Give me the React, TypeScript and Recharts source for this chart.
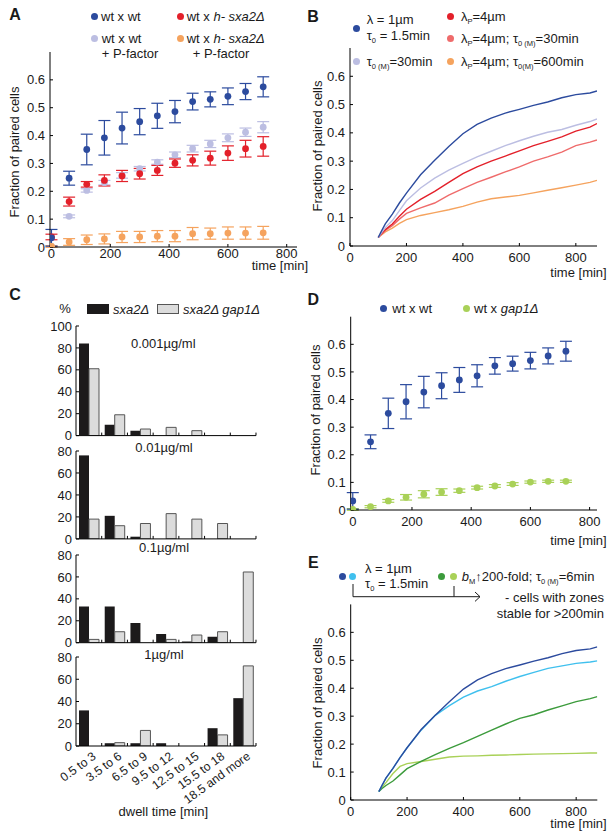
import React from 'react';
import { ScatterChart, Scatter, XAxis, YAxis, ErrorBar, LineChart, Line, BarChart, Bar } from 'recharts';

const FONT = '"Liberation Sans", Arial, Helvetica, sans-serif';

// ---------- Panel A / D : experimental time courses ----------
const timesExp = [0, 60, 120, 180, 240, 300, 360, 420, 480, 540, 600, 660, 720];
const wtWt = [0.033, 0.247, 0.35, 0.392, 0.427, 0.45, 0.471, 0.486, 0.522, 0.53, 0.541, 0.558, 0.575];
const wtWtErr = [0.03, 0.025, 0.055, 0.062, 0.057, 0.047, 0.045, 0.04, 0.03, 0.027, 0.03, 0.029, 0.036];
const wtSxa2 = [0.036, 0.163, 0.225, 0.239, 0.255, 0.263, 0.275, 0.301, 0.311, 0.319, 0.337, 0.353, 0.361];
const wtSxa2Err = [0.01, 0.016, 0.01, 0.02, 0.02, 0.019, 0.018, 0.015, 0.02, 0.025, 0.026, 0.03, 0.035];
const wtWtP = [0.002, 0.11, 0.203, 0.231, 0.257, 0.281, 0.305, 0.331, 0.353, 0.37, 0.392, 0.412, 0.43];
const wtWtPErr = [0.002, 0.005, 0.006, 0.008, 0.01, 0.008, 0.008, 0.01, 0.012, 0.013, 0.014, 0.015, 0.02];
const wtSxa2P = [0.002, 0.018, 0.026, 0.029, 0.036, 0.036, 0.039, 0.039, 0.048, 0.048, 0.05, 0.05, 0.051];
const wtSxa2PErr = [0.003, 0.012, 0.017, 0.018, 0.02, 0.02, 0.02, 0.02, 0.022, 0.02, 0.022, 0.022, 0.023];
const wtGap1 = [0.002, 0.012, 0.033, 0.046, 0.057, 0.065, 0.07, 0.081, 0.087, 0.094, 0.101, 0.104, 0.104];
const wtGap1Err = [0.003, 0.004, 0.005, 0.01, 0.013, 0.012, 0.006, 0.005, 0.005, 0.005, 0.004, 0.004, 0.004];

// ---------- Panel B / E : simulations ----------
const timesSim = [100, 110, 125, 150, 175, 200, 250, 300, 350, 400, 450, 500, 550, 600, 650, 700, 750, 800, 850, 875];
const simBase = [0.03, 0.05, 0.078, 0.113, 0.152, 0.187, 0.252, 0.303, 0.352, 0.397, 0.43, 0.452, 0.47, 0.483, 0.497, 0.509, 0.524, 0.535, 0.541, 0.548];
const simTauM30 = [0.03, 0.045, 0.065, 0.09, 0.125, 0.16, 0.205, 0.24, 0.268, 0.292, 0.315, 0.335, 0.355, 0.372, 0.388, 0.402, 0.412, 0.427, 0.44, 0.449];
const simLamP = [0.03, 0.042, 0.058, 0.078, 0.105, 0.13, 0.165, 0.193, 0.225, 0.256, 0.28, 0.3, 0.318, 0.336, 0.355, 0.37, 0.386, 0.406, 0.42, 0.433];
const simLamPTau30 = [0.03, 0.04, 0.055, 0.072, 0.095, 0.115, 0.135, 0.152, 0.18, 0.203, 0.225, 0.243, 0.262, 0.28, 0.3, 0.315, 0.332, 0.355, 0.367, 0.375];
const simLamPTau600 = [0.03, 0.038, 0.05, 0.063, 0.08, 0.093, 0.108, 0.118, 0.128, 0.14, 0.155, 0.167, 0.173, 0.179, 0.188, 0.197, 0.206, 0.215, 0.225, 0.232];
const simStable = [0.03, 0.05, 0.078, 0.113, 0.152, 0.187, 0.25, 0.303, 0.338, 0.368, 0.39, 0.406, 0.425, 0.442, 0.457, 0.471, 0.48, 0.489, 0.494, 0.498];
const simBM = [0.03, 0.04, 0.052, 0.068, 0.09, 0.112, 0.138, 0.162, 0.185, 0.205, 0.228, 0.25, 0.272, 0.292, 0.305, 0.322, 0.337, 0.352, 0.363, 0.37];
const simBMStable = [0.03, 0.045, 0.062, 0.095, 0.12, 0.13, 0.138, 0.146, 0.154, 0.157, 0.158, 0.16, 0.161, 0.163, 0.164, 0.165, 0.166, 0.167, 0.168, 0.168];

// ---------- Panel C : dwell time histograms ----------
const dwellCats = ['0.5 to 3', '3.5 to 6', '6.5 to 9', '9.5 to 12', '12.5 to 15', '15.5 to 18', '18.5 and more'];
const sxa2_0001 = [84, 10, 4.5, 0, 0, 0, 0];
const gap1_0001 = [61, 19, 6, 7.5, 4.5, 0, 0];
const sxa2_001 = [76, 21, 2, 0, 0, 0, 0];
const gap1_001 = [18, 12, 14, 23, 18, 14, 0];
const sxa2_01 = [33, 33, 18, 8, 1, 5.5, 0];
const gap1_01 = [3, 10, 0, 3, 7, 10, 64.5];
const sxa2_1 = [32, 2.5, 2.5, 2.5, 0, 16, 43];
const gap1_1 = [0, 3, 14, 0, 0, 10, 72];

const xTicksExp = [0, 200, 400, 600, 800];
const yTicksFrac = [0, 0.1, 0.2, 0.3, 0.4, 0.5, 0.6];
const yTicksPct100 = [0, 20, 40, 60, 80, 100];
const yTicksPct80 = [0, 20, 40, 60, 80];
const edgeTicks = [0.5, 1, 1.5, 2, 2.5, 3, 3.5, 4, 4.5, 5, 5.5, 6, 6.5, 7];

const C = {
  blue: '#2C4B9E',
  red: '#E3202A',
  lav: '#BCBEE2',
  orange: '#F5A35E',
  pink: '#EF6B6B',
  cyan: '#40C0EE',
  dgreen: '#3C9B3C',
  lgreen: '#A9D158',
};

const tickStyle = { fill: '#1a1a1a', fontSize: 13, fontFamily: FONT };
const fmt = (v: number) => (v === 0 ? '0' : String(v));

const expData = (vals: number[], errs: number[]) => timesExp.map((t, i) => ({ t, y: vals[i], e: errs[i] }));
const simData = timesSim.map((t, i) => ({
  t,
  base: simBase[i],
  tau30: simTauM30[i],
  lamP: simLamP[i],
  lamP30: simLamPTau30[i],
  lamP600: simLamPTau600[i],
  stable: simStable[i],
  bm: simBM[i],
  bmStable: simBMStable[i],
}));

const dotShape = (color: string) => (p: any) => <circle cx={p.cx} cy={p.cy} r={3.4} fill={color} />;

function Sub({ children }: { children: React.ReactNode }) {
  return <span style={{ fontSize: '0.58em', position: 'relative', top: '0.35em' }}>{children}</span>;
}

function T({ x, y, anchor = 'start', size = 13, bold = false, children }: any) {
  const tx = anchor === 'end' ? '-100%' : anchor === 'middle' ? '-50%' : '0';
  return (
    <div
      style={{
        position: 'absolute', left: x, top: y, transform: `translate(${tx},-50%)`,
        fontSize: size, lineHeight: 1, whiteSpace: 'nowrap', fontFamily: FONT,
        color: '#1a1a1a', fontWeight: bold ? 'bold' : 'normal',
      }}
    >
      {children}
    </div>
  );
}

function YLabel({ x, y }: { x: number; y: number }) {
  return (
    <div
      style={{
        position: 'absolute', left: x, top: y, transform: 'translate(-50%,-50%) rotate(-90deg)',
        fontSize: 13, lineHeight: 1, whiteSpace: 'nowrap', fontFamily: FONT, color: '#1a1a1a',
      }}
    >
      Fraction of paired cells
    </div>
  );
}

function Dot({ x, y, c }: { x: number; y: number; c: string }) {
  return <div style={{ position: 'absolute', left: x - 3.5, top: y - 3.5, width: 7, height: 7, borderRadius: '50%', background: c }} />;
}

function Box({ x, y, w, h, fill, stroke }: any) {
  return <div style={{ position: 'absolute', left: x, top: y, width: w, height: h, background: fill, border: `1px solid ${stroke}`, boxSizing: 'border-box' }} />;
}

function ExpChart({ left, top, width, height, mTop, mRight, mBottom, mLeft, domainX, xMargin, series }: any) {
  return (
    <div style={{ position: 'absolute', left, top }}>
      <ScatterChart width={width} height={height} margin={{ top: mTop, right: mRight, bottom: mBottom, left: mLeft }}>
        <XAxis type="number" dataKey="t" domain={domainX} allowDataOverflow ticks={xTicksExp} interval={0} tickSize={-3} tickMargin={xMargin} height={20} stroke="#000" tick={tickStyle} />
        <YAxis type="number" dataKey="y" domain={[0, 0.7]} allowDataOverflow ticks={yTicksFrac} interval={0} width={50} tickSize={-3} tickMargin={8} stroke="#000" tick={tickStyle} tickFormatter={fmt} />
        {series.map((s: any, i: number) => (
          <Scatter key={i} data={expData(s.vals, s.errs)} fill={s.color} shape={dotShape(s.color)} isAnimationActive={false}>
            <ErrorBar dataKey="e" direction="y" width={6} stroke={s.color} strokeWidth={1.2} />
          </Scatter>
        ))}
      </ScatterChart>
    </div>
  );
}

function SimChart({ left, top, width, height, mTop, mRight, mBottom, mLeft, lines }: any) {
  return (
    <div style={{ position: 'absolute', left, top }}>
      <LineChart width={width} height={height} data={simData} margin={{ top: mTop, right: mRight, bottom: mBottom, left: mLeft }}>
        <XAxis type="number" dataKey="t" domain={[0, 875]} allowDataOverflow ticks={xTicksExp} interval={0} tickSize={-3} tickMargin={10} height={20} stroke="#000" tick={tickStyle} />
        <YAxis type="number" domain={[0, 0.7]} allowDataOverflow ticks={yTicksFrac} interval={0} width={50} tickSize={-3} tickMargin={8} stroke="#000" tick={tickStyle} tickFormatter={fmt} />
        {lines.map((l: any) => (
          <Line key={l.key} type="linear" dataKey={l.key} stroke={l.color} strokeWidth={1.4} dot={false} isAnimationActive={false} />
        ))}
      </LineChart>
    </div>
  );
}

const makeEdgeTick = (showLabels: boolean) => (props: any) => {
  const { x, y, payload } = props;
  const v = payload.value;
  if (Number.isInteger(v)) {
    return <line x1={x} x2={x} y1={y} y2={y - 3} stroke="#000" strokeWidth={1} />;
  }
  if (!showLabels) return <g />;
  const label = dwellCats[Math.floor(v)];
  const lx = x + 8;
  const ly = y + 12;
  return (
    <text x={lx} y={ly} transform={`rotate(-36 ${lx} ${ly})`} textAnchor="end" fontSize={12.2} fill="#1a1a1a" fontFamily={FONT}>
      {label}
    </text>
  );
};

function DwellChart({ plotTop, plotBottom, max, ticks, s, g, labels }: any) {
  const above = 6;
  const below = labels ? 70 : 8;
  const height = plotBottom - plotTop + above + below;
  const data = dwellCats.map((cat, i) => ({ cat, pos: i + 0.5, s: s[i], g: g[i] }));
  return (
    <div style={{ position: 'absolute', left: 0, top: plotTop - above }}>
      <BarChart width={300} height={height} data={data} barGap={0} margin={{ top: above, right: 44, bottom: 0, left: 36 }}>
        <XAxis xAxisId="edge" dataKey="pos" type="number" domain={[0, 7]} allowDataOverflow ticks={edgeTicks} interval={0} tickLine={false} tickSize={0} tickMargin={0} height={below} stroke="#000" tick={makeEdgeTick(labels)} />
        <XAxis xAxisId="cat" dataKey="cat" type="category" hide height={0} />
        <YAxis type="number" domain={[0, max]} allowDataOverflow ticks={ticks} interval={0} width={40} tickSize={-3} tickMargin={7} stroke="#000" tick={tickStyle} />
        <Bar xAxisId="cat" dataKey="s" fill="#1c1a1b" barSize={10} isAnimationActive={false} />
        <Bar xAxisId="cat" dataKey="g" fill="#dcdcdc" stroke="#555" strokeWidth={1} barSize={10} isAnimationActive={false} />
      </BarChart>
    </div>
  );
}

export default function App() {
  return (
    <div style={{ position: 'absolute', left: 0, top: 0, width: 615, height: 839, background: '#fff', overflow: 'hidden', fontFamily: FONT }}>
      {/* Panel A */}
      <ExpChart
        left={0} top={0} width={310} height={280} mTop={52} mRight={13} mBottom={13} mLeft={0} domainX={[-5, 835]} xMargin={5}
        series={[
          { vals: wtWtP, errs: wtWtPErr, color: C.lav },
          { vals: wtSxa2P, errs: wtSxa2PErr, color: C.orange },
          { vals: wtSxa2, errs: wtSxa2Err, color: C.red },
          { vals: wtWt, errs: wtWtErr, color: C.blue },
        ]}
      />
      <T x={15} y={15} size={16} bold anchor="middle">A</T>
      <Dot x={94.3} y={16} c={C.blue} />
      <T x={101} y={16}>wt x wt</T>
      <Dot x={180} y={16} c={C.red} />
      <T x={186.7} y={16}>wt x <i>h- sxa2Δ</i></T>
      <Dot x={94.3} y={38.3} c={C.lav} />
      <T x={101.7} y={38.3}>wt x wt</T>
      <T x={101.7} y={53.3}>+ P-factor</T>
      <Dot x={180} y={38.3} c={C.orange} />
      <T x={186.7} y={38.3}>wt x <i>h- sxa2Δ</i></T>
      <T x={192.7} y={53.3}>+ P-factor</T>
      <YLabel x={14} y={152} />
      <T x={308} y={265} anchor="end">time [min]</T>

      {/* Panel B */}
      <SimChart
        left={300} top={0} width={315} height={280} mTop={48} mRight={18} mBottom={14} mLeft={0}
        lines={[
          { key: 'lamP600', color: C.orange },
          { key: 'lamP30', color: C.pink },
          { key: 'lamP', color: C.red },
          { key: 'tau30', color: C.lav },
          { key: 'base', color: C.blue },
        ]}
      />
      <T x={313} y={16.7} size={16} bold anchor="middle">B</T>
      <Dot x={356.7} y={28.3} c={C.blue} />
      <T x={366.7} y={19.3}>λ = 1µm</T>
      <T x={366.7} y={35}>τ<Sub>0</Sub> = 1.5min</T>
      <Dot x={356.7} y={61} c={C.lav} />
      <T x={366.7} y={61}>τ<Sub>0 (M)</Sub>=30min</T>
      <Dot x={450} y={16} c={C.red} />
      <T x={461} y={16}>λ<Sub>P</Sub>=4µm</T>
      <Dot x={450} y={38.3} c={C.pink} />
      <T x={461} y={38.3}>λ<Sub>P</Sub>=4µm; τ<Sub>0 (M)</Sub>=30min</T>
      <Dot x={450} y={61} c={C.orange} />
      <T x={461} y={61}>λ<Sub>P</Sub>=4µm; τ<Sub>0(M)</Sub>=600min</T>
      <YLabel x={316.7} y={146} />
      <T x={606.7} y={272} anchor="end">time [min]</T>

      {/* Panel C */}
      <T x={15} y={295} size={16} bold anchor="middle">C</T>
      <T x={65} y={308.3} anchor="middle">%</T>
      <Box x={87} y={304} w={22} h={10} fill="#1c1a1b" stroke="#1c1a1b" />
      <T x={113} y={309}><i>sxa2Δ</i></T>
      <Box x={157} y={304} w={22} h={10} fill="#dcdcdc" stroke="#555" />
      <T x={183} y={309}><i>sxa2Δ gap1Δ</i></T>
      <DwellChart plotTop={325.7} plotBottom={435.3} max={100} ticks={yTicksPct100} s={sxa2_0001} g={gap1_0001} labels={false} />
      <DwellChart plotTop={450.7} plotBottom={538.6} max={80} ticks={yTicksPct80} s={sxa2_001} g={gap1_001} labels={false} />
      <DwellChart plotTop={555} plotBottom={642.7} max={80} ticks={yTicksPct80} s={sxa2_01} g={gap1_01} labels={false} />
      <DwellChart plotTop={656.7} plotBottom={745.7} max={80} ticks={yTicksPct80} s={sxa2_1} g={gap1_1} labels={true} />
      <T x={163.3} y={343.3} anchor="middle">0.001µg/ml</T>
      <T x={164} y={446.7} anchor="middle">0.01µg/ml</T>
      <T x={164} y={546.7} anchor="middle">0.1µg/ml</T>
      <T x={164} y={654.3} anchor="middle">1µg/ml</T>
      <T x={163.3} y={811} anchor="middle">dwell time [min]</T>

      {/* Panel D */}
      <ExpChart
        left={300} top={280} width={315} height={260} mTop={36.7} mRight={18} mBottom={10} mLeft={0.7} domainX={[-7, 825]} xMargin={10}
        series={[
          { vals: wtGap1, errs: wtGap1Err, color: C.lgreen },
          { vals: wtWt, errs: wtWtErr, color: C.blue },
        ]}
      />
      <T x={313.3} y={300} size={16} bold anchor="middle">D</T>
      <Dot x={383.3} y={308.3} c={C.blue} />
      <T x={392.3} y={308.3}>wt x wt</T>
      <Dot x={466} y={308.3} c={C.lgreen} />
      <T x={474} y={308.3}>wt x <i>gap1Δ</i></T>
      <YLabel x={315} y={410} />
      <T x={606.7} y={540} anchor="end">time [min]</T>

      {/* Panel E */}
      <SimChart
        left={300} top={535} width={315} height={300} mTop={69.4} mRight={17.7} mBottom={15} mLeft={0.7}
        lines={[
          { key: 'bmStable', color: C.lgreen },
          { key: 'bm', color: C.dgreen },
          { key: 'stable', color: C.cyan },
          { key: 'base', color: C.blue },
        ]}
      />
      <T x={313.3} y={563.3} size={16} bold anchor="middle">E</T>
      <Dot x={342} y={576} c={C.blue} />
      <Dot x={352.5} y={576} c={C.cyan} />
      <T x={365} y={568.3}>λ = 1µm</T>
      <T x={365} y={583.3}>τ<Sub>0</Sub> = 1.5min</T>
      <Dot x={441.7} y={576} c={C.dgreen} />
      <Dot x={453.3} y={576} c={C.lgreen} />
      <T x={461.7} y={576}><i>b</i><Sub>M</Sub>↑200-fold; τ<Sub>0 (M)</Sub>=6min</T>
      <svg style={{ position: 'absolute', left: 0, top: 0 }} width={615} height={839} pointerEvents="none">
        <polyline points="353,584 353,596.7 480,596.7" fill="none" stroke="#1a1a1a" strokeWidth={1} />
        <line x1={454} y1={586} x2={454} y2={596.7} stroke="#1a1a1a" strokeWidth={1} />
        <polyline points="475,592 480,596.7 475,601.4" fill="none" stroke="#1a1a1a" strokeWidth={1} />
      </svg>
      <T x={604} y={597.3} anchor="end">- cells with zones</T>
      <T x={604} y={613.3} anchor="end">stable for &gt;200min</T>
      <YLabel x={316.7} y={703} />
      <T x={606.7} y={823} anchor="end">time [min]</T>
    </div>
  );
}
